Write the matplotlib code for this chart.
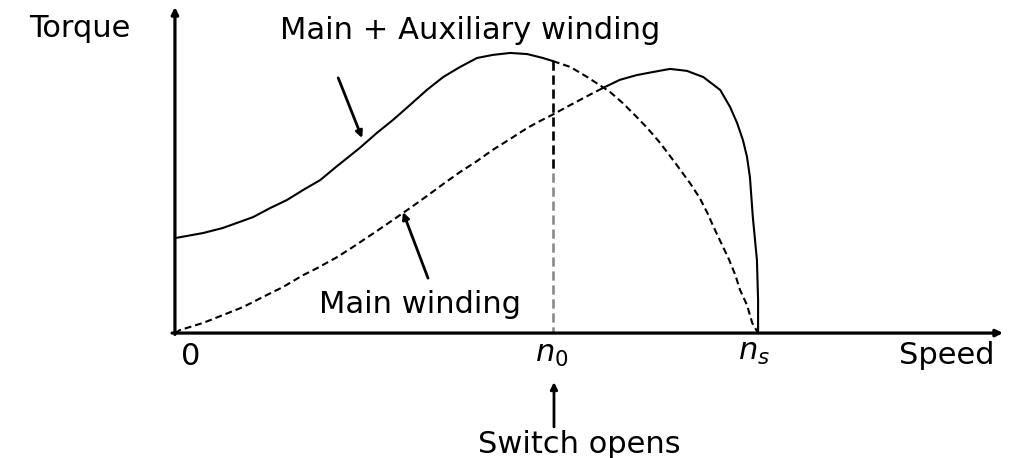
import numpy as np
import matplotlib
matplotlib.use("Agg")
import matplotlib.pyplot as plt

# speed normalised to n_s = 1, torque normalised to peak of main+aux curve
n0 = 0.648
ns = 1.0

# main + auxiliary winding (solid up to n0, dashed beyond)
aux_speed = [0.0, 0.048, 0.082, 0.106, 0.134, 0.163, 0.192, 0.220, 0.249, 0.278, 0.317, 0.346, 0.374,
             0.403, 0.432, 0.460, 0.489, 0.518, 0.545, 0.575, 0.604, 0.631, 0.648,
             0.678, 0.707, 0.746, 0.768, 0.792, 0.810, 0.832, 0.849, 0.863, 0.883, 0.900, 0.913,
             0.923, 0.935, 0.949, 0.961, 0.969, 0.981, 0.990, 1.0]
aux_torque = [0.339, 0.357, 0.375, 0.393, 0.414, 0.446, 0.475, 0.511, 0.546, 0.596, 0.661, 0.714, 0.761,
              0.814, 0.868, 0.914, 0.950, 0.982, 0.993, 1.000, 0.996, 0.982, 0.971,
              0.950, 0.914, 0.861, 0.821, 0.771, 0.732, 0.679, 0.632, 0.593, 0.536, 0.482, 0.429,
              0.382, 0.329, 0.268, 0.207, 0.154, 0.100, 0.036, 0.0]

# main winding only (dashed until past n0, solid afterwards)
main_speed = [0.0, 0.009, 0.048, 0.082, 0.117, 0.151, 0.185, 0.220, 0.244, 0.278, 0.305, 0.346, 0.374,
              0.403, 0.432, 0.460, 0.489, 0.518, 0.545, 0.575, 0.604, 0.626, 0.647, 0.678, 0.707, 0.734,
              0.763, 0.792, 0.820, 0.849, 0.878, 0.906, 0.935, 0.952, 0.964, 0.974, 0.981, 0.986, 0.991,
              0.998, 1.0, 1.0]
main_torque = [0.0, 0.011, 0.036, 0.064, 0.093, 0.129, 0.164, 0.207, 0.232, 0.271, 0.307, 0.364, 0.404,
               0.446, 0.489, 0.532, 0.575, 0.614, 0.654, 0.693, 0.732, 0.757, 0.779, 0.814, 0.846, 0.875,
               0.904, 0.921, 0.932, 0.943, 0.936, 0.914, 0.868, 0.807, 0.750, 0.689, 0.629, 0.557, 0.414,
               0.261, 0.118, 0.0]
main_solid_from = 0.734

fig = plt.figure(figsize=(10.1, 4.58), dpi=100)
ax = fig.add_axes([0, 0, 1, 1])
ax.set_xlim(-0.300, 1.432)
ax.set_ylim(-0.446, 1.189)
ax.axis("off")

dash = (0, (3.3, 1.9))
k = aux_speed.index(n0)
ax.plot(aux_speed[:k + 1], aux_torque[:k + 1], color="black", lw=1.5)
ax.plot(aux_speed[k:], aux_torque[k:], color="black", lw=1.5, linestyle=dash)
m = main_speed.index(main_solid_from)
ax.plot(main_speed[:m + 1], main_torque[:m + 1], color="black", lw=1.5, linestyle=dash)
ax.plot(main_speed[m:], main_torque[m:], color="black", lw=1.5)

# switch-opening line at n0
t0 = aux_torque[k]
ax.plot([n0, n0], [t0, 0.57], color="black", lw=1.9, linestyle=(0, (3.5, 1.8)))
ax.plot([n0, n0], [0.57, 0.0], color="#8a8a8a", lw=1.9, linestyle=(0, (3.5, 1.8)))

# axes with arrows
ax.annotate("", xy=(0, 1.164), xytext=(0, -0.005),
            arrowprops=dict(arrowstyle="-|>", color="black", lw=2.3, mutation_scale=10, shrinkA=0, shrinkB=0))
ax.annotate("", xy=(1.42, 0), xytext=(-0.005, 0),
            arrowprops=dict(arrowstyle="-|>", color="black", lw=2.3, mutation_scale=10, shrinkA=0, shrinkB=0))

# pointer arrows
arr = dict(arrowstyle="-|>", color="black", lw=2.0, mutation_scale=10, shrinkA=0, shrinkB=0)
ax.annotate("", xy=(0.321, 0.696), xytext=(0.280, 0.911), arrowprops=arr)
ax.annotate("", xy=(0.391, 0.432), xytext=(0.434, 0.196), arrowprops=arr)
ax.annotate("", xy=(0.650, -0.175), xytext=(0.650, -0.335), arrowprops=arr)

fs = 22
txt = dict(fontsize=fs, family="DejaVu Sans", color="black", va="baseline")
ax.text(-0.163, 1.057, "Torque", ha="center", **txt)
ax.text(0.506, 1.050, "Main + Auxiliary winding", ha="center", **txt)
ax.text(0.420, 0.071, "Main winding", ha="center", **txt)
ax.text(0.027, -0.114, "0", ha="center", **txt)
ax.text(0.617, -0.104, r"$n_0$", ha="left", **txt)
ax.text(0.966, -0.096, r"$n_s$", ha="left", **txt)
ax.text(1.324, -0.111, "Speed", ha="center", **txt)
ax.text(0.693, -0.429, "Switch opens", ha="center", **txt)

fig.savefig("out.png", dpi=100)
